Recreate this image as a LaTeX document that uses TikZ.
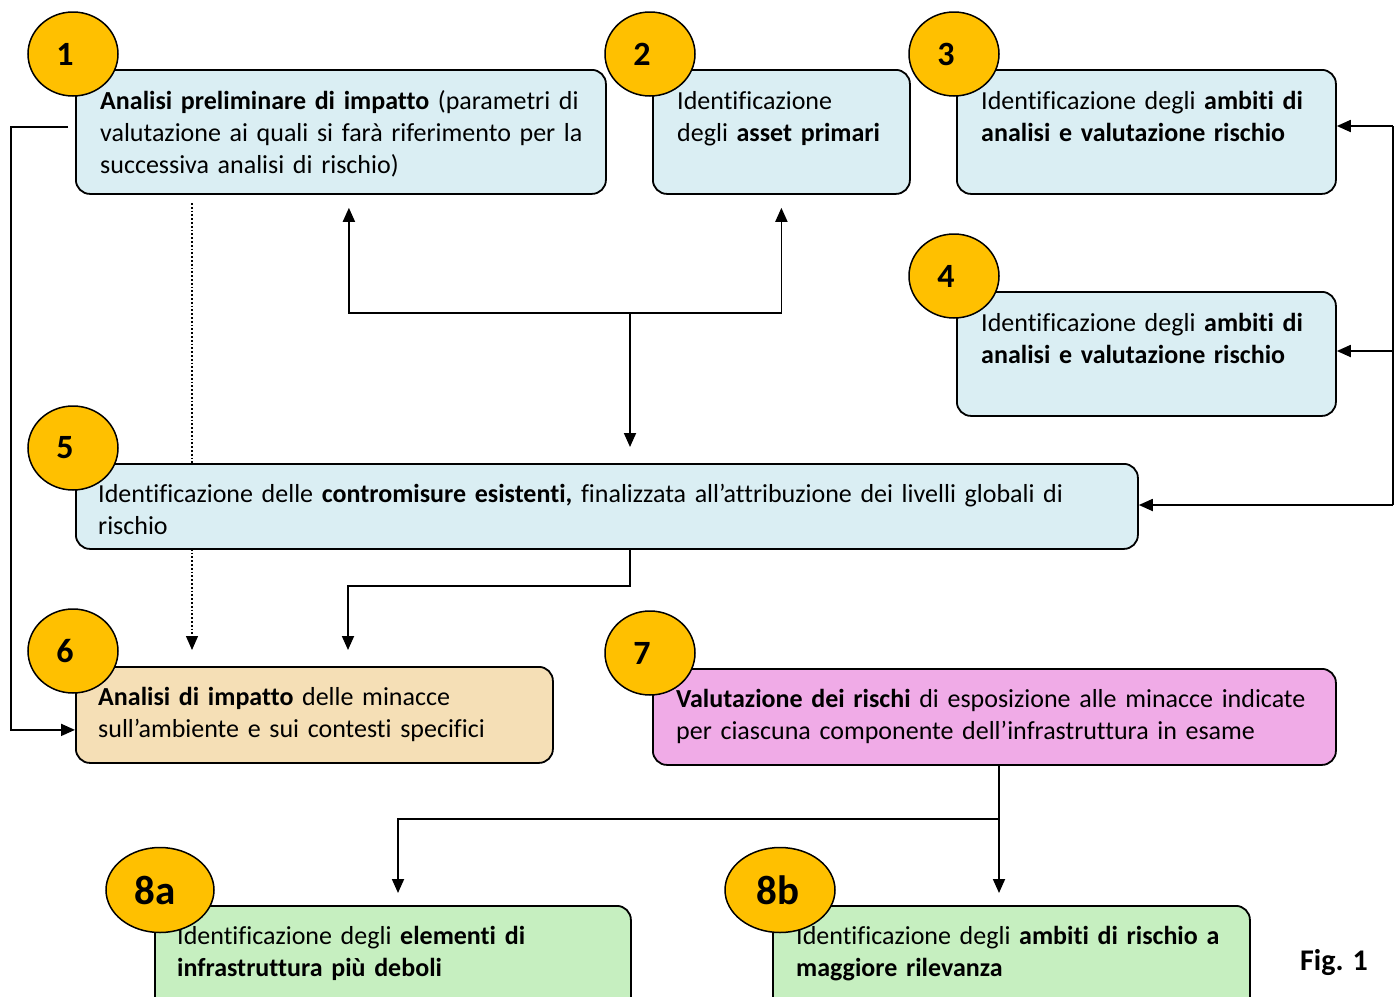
\documentclass[tikz,border=0pt]{standalone}
\usepackage{fontspec}
\setmainfont{Carlito}[Ligatures=NoCommon]
\usetikzlibrary{shapes.geometric,arrows.meta,calc}
\definecolor{bluefill}{HTML}{DAEEF3}
\definecolor{goldfill}{HTML}{FFC000}
\definecolor{wheatfill}{HTML}{F5DFB6}
\definecolor{pinkfill}{HTML}{F0ABE7}
\definecolor{greenfill}{HTML}{C6EFC0}
\begin{document}
\begin{tikzpicture}[x=1pt,y=-1pt,
  box/.style={draw, line width=1.8pt, rounded corners=14pt, anchor=north west, inner sep=0pt},
  circ/.style={ellipse, draw, fill=goldfill, line width=1.5pt, inner sep=0pt, minimum width=90pt, minimum height=84pt},
  bigcirc/.style={circ, minimum width=108pt, minimum height=85pt},
  num/.style={inner sep=0pt, font=\fontsize{34}{34}\selectfont\bfseries},
  bignum/.style={inner sep=0pt, font=\fontsize{41}{41}\selectfont\bfseries},
  txt/.style={anchor=base west, inner sep=0pt, align=left, text width=#1, font=\fontsize{26}{32}\selectfont},
  conn/.style={line width=1.8pt},
  arr/.style={conn, -{Triangle[length=14pt,width=12pt]}}
]
\useasboundingbox (0,0) rectangle (1397,996);
\clip (0,0) rectangle (1397,996);

% boxes (drawn as nodes, defined first for names)
\node[box, fill=bluefill, minimum width=530pt, minimum height=124pt] (b1) at (75,69) {};
\node[box, fill=bluefill, minimum width=257pt, minimum height=124pt] (b2) at (652,69) {};
\node[box, fill=bluefill, minimum width=379pt, minimum height=124pt] (b3) at (956,69) {};
\node[box, fill=bluefill, minimum width=379pt, minimum height=124pt] (b4) at (956,291) {};

% dotted connector (runs behind box 5)
\coordinate (d1) at (192,203);
\node[box, fill=wheatfill, minimum width=477pt, minimum height=96pt] (b6) at (75,666) {};
\draw[arr, dotted, line width=1.3pt, shorten >=16pt] (d1) -- (d1 |- b6.north);

\node[box, fill=bluefill, minimum width=1062pt, minimum height=85pt] (b5) at (75,463) {};
\node[box, fill=pinkfill, minimum width=683pt, minimum height=96pt] (b7) at (652,668) {};
\node[box, fill=greenfill, minimum width=476pt, minimum height=110pt] (b8a) at (154,905) {};
\node[box, fill=greenfill, minimum width=477pt, minimum height=110pt] (b8b) at (772,905) {};

% connectors
\draw[arr] ([xshift=-7pt,yshift=5pt]b1.west) -- ++(-57,0) |- ([yshift=-15pt]b6.west);

\coordinate (j1) at (630,313);
\draw[arr] (j1) -| ([xshift=8pt,yshift=-13pt]b1.south);
\draw[arr] (j1) -| ([yshift=-13pt]b2.south);
\draw[arr, shorten >=16pt] (j1) -- (j1 |- b5.north);

\coordinate (j2) at (348,586);
\draw[arr, shorten >=16pt] (j1 |- b5.south) |- (j2) -- (j2 |- b6.north);

\coordinate (r1) at (1393,126);
\coordinate (r2) at (1393,505);
\coordinate (r3) at (1393,351);
\draw[conn] (r1) -- (r2);
\draw[arr] (r1) -- (b3.east |- r1);
\draw[arr] (r3) -- (b4.east |- r3);
\draw[arr] (r2) -- (b5.east |- r2);

\coordinate (j3) at (999,819);
\coordinate (j4) at (398,819);
\draw[arr, shorten >=12pt] (j3 |- b7.south) -- (j3 |- b8b.north);
\draw[arr, shorten >=12pt] (j3) -- (j4) -- (j4 |- b8a.north);

% texts
\node[txt=520pt] (t1) at (100,109) {\textbf{Analisi preliminare di impatto} (parametri di\\valutazione ai quali si farà riferimento per la\\successiva analisi di rischio)};
\node[txt=240pt] (t2) at (677,109) {Identificazione\\degli \textbf{asset primari}};
\node[txt=350pt] (t3) at (981,109) {Identificazione degli \textbf{ambiti di}\\\textbf{analisi e valutazione rischio}};
\node[txt=350pt] (t4) at (981,331) {Identificazione degli \textbf{ambiti di}\\\textbf{analisi e valutazione rischio}};
\node[txt=1030pt] (t5) at (98,502) {Identificazione delle \textbf{contromisure esistenti,} finalizzata all’attribuzione dei livelli globali di\\rischio};
\node[txt=450pt] (t6) at (98,705) {\textbf{Analisi di impatto} delle minacce\\sull’ambiente e sui contesti specifici};
\node[txt=650pt] (t7) at (676,707) {\textbf{Valutazione dei rischi} di esposizione alle minacce indicate\\per ciascuna componente dell’infrastruttura in esame};
\node[txt=450pt] (t8a) at (177,944) {Identificazione degli \textbf{elementi di}\\\textbf{infrastruttura più deboli}};
\node[txt=450pt] (t8b) at (796,944) {Identificazione degli \textbf{ambiti di rischio a}\\\textbf{maggiore rilevanza}};
\node[anchor=base west, inner sep=0pt, font=\fontsize{30}{30}\selectfont\bfseries] (fig) at (1300,970) {Fig. 1};

% number circles
\node[circ] (c1) at (73,54) {};
\node[num] (n1) at ([xshift=-8pt]c1.center) {1};
\node[circ] (c2) at (650,54) {};
\node[num] (n2) at ([xshift=-8pt]c2.center) {2};
\node[circ] (c3) at (954,54) {};
\node[num] (n3) at ([xshift=-8pt]c3.center) {3};
\node[circ] (c4) at (954,276) {};
\node[num] (n4) at ([xshift=-8pt]c4.center) {4};
\node[circ] (c5) at (73,448) {};
\node[num] (n5) at ([xshift=-8pt]c5.center) {5};
\node[circ] (c6) at (73,651) {};
\node[num] (n6) at ([xshift=-8pt]c6.center) {6};
\node[circ] (c7) at (650,653) {};
\node[num] (n7) at ([xshift=-8pt]c7.center) {7};
\node[bigcirc] (c8a) at (160,890) {};
\node[bignum] (n8a) at ([xshift=-5pt]c8a.center) {8a};
\node[bigcirc, minimum width=110pt] (c8b) at (780,890) {};
\node[bignum] (n8b) at ([xshift=-2pt]c8b.center) {8b};
\end{tikzpicture}
\end{document}
